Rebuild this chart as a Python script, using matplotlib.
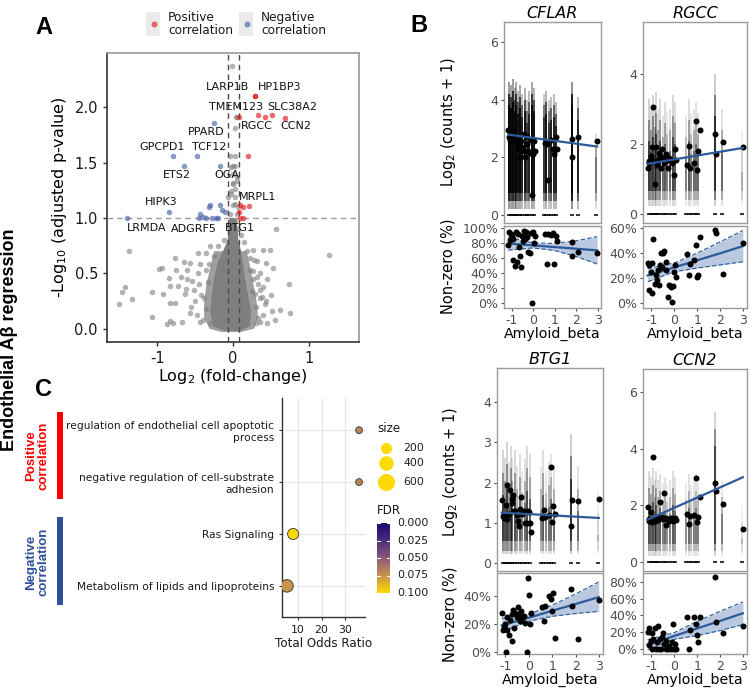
import matplotlib
matplotlib.use('Agg')
import matplotlib.pyplot as plt
import numpy as np
from matplotlib.colors import LinearSegmentedColormap, Normalize
from matplotlib.patches import Polygon, Rectangle

plt.rcParams['axes.unicode_minus'] = False
plt.rcParams['font.family'] = ['DejaVu Sans']

# ---------------- Panel A data (volcano) ----------------
gray_x = [-0.01, 0.04, 0.05, 0.03, -0.04, 0.03, 0.0, 0.03, 0.0, 0.05, 0.0, 0.02, -0.02, 0.02, 0.0, -0.04, 0.05,
          -0.02, 0.03, -0.06, 0.03, -0.02, 0.0, 0.05, -0.02, 0.07, 0.06, -0.05,
          0.57, -1.37, 1.26, 0.74,
          -0.98, -0.93, -0.76, -0.64, -0.84, -0.75, -0.61, -0.46, -0.57, -0.43, -0.35, -0.35, -0.46, -0.68, -0.83,
          -0.72, -0.62, -0.54,
          0.18, 0.26, 0.39, 0.49, 0.31, 0.43, 0.22, 0.31, 0.40, 0.53, 0.25, 0.38, 0.44, 0.14,
          -1.07, -1.42, -1.46, -1.33, -1.50, -1.07, -0.87, -0.83, -0.79, -0.67, -0.83, -0.92, -0.76, -0.63, -0.57,
          -0.43, 0.36, 0.45, 0.42, 0.51, 0.62, 0.75, 0.33, 0.29, 0.36,
          -0.50, -0.48, -0.52, -0.45, 0.35, 0.28, -0.30, 0.15, 0.10, -0.12, -0.20, 0.45, -0.55, 0.50, 0.55, -0.60,
          -0.38, 0.40, -0.30, 0.30, -0.36, -0.33, 0.27, 0.30, -0.40, 0.33, -0.25, 0.22, -0.32, 0.26, -0.42, 0.36]
gray_y = [2.37, 1.91, 1.91, 1.81, 1.56, 1.56, 1.47, 1.47, 1.40, 1.33, 1.32, 1.26, 1.22, 1.13, 1.12, 1.04, 1.04,
          0.98, 0.97, 1.19, 1.19, 1.24, 1.31, 1.37, 1.46, 1.10, 0.90, 0.93,
          0.90, 0.70, 0.67, 0.40,
          0.54, 0.55, 0.64, 0.60, 0.46, 0.53, 0.53, 0.68, 0.59, 0.58, 0.68, 0.53, 0.50, 0.47, 0.39,
          0.39, 0.36, 0.43,
          0.70, 0.71, 0.71, 0.71, 0.61, 0.59, 0.53, 0.47, 0.38, 0.55, 0.34, 0.29, 0.25, 0.26,
          0.33, 0.38, 0.33, 0.27, 0.22, 0.11, 0.04, 0.07, 0.05, 0.06, 0.23, 0.31, 0.23, 0.31, 0.14,
          0.06, 0.06, 0.05, 0.22, 0.16, 0.17, 0.14, 0.40, 0.31, 0.28,
          0.25, 0.12, 0.35, 0.40, 0.50, 0.62, 0.75, 0.78, 0.85, 0.80, 0.75, 0.45, 0.20, 0.30, 0.08, 0.45,
          0.28, 0.12, 0.05, 0.05, 0.18, 0.42, 0.45, 0.20, 0.08, 0.10, 0.66, 0.64, 0.58, 0.52, 0.30, 0.35]
# outline of the dense, fully overlapping core of non-significant genes
core_outer_x = [-0.25, -0.30, -0.35, -0.38, -0.38, -0.31, -0.15, 0.10, 0.28, 0.33, 0.31, 0.27, 0.23, 0.18]
core_outer_y = [0.70, 0.55, 0.40, 0.25, 0.10, 0.00, -0.03, -0.03, 0.00, 0.10, 0.25, 0.40, 0.55, 0.70]
core_inner_x = [-0.12, -0.20, -0.25, -0.28, -0.30, -0.26, -0.10, 0.08, 0.22, 0.24, 0.20, 0.16, 0.13, 0.10,
                0.07, 0.06, 0.04, -0.04, -0.06, -0.07]
core_inner_y = [0.72, 0.60, 0.45, 0.30, 0.15, 0.02, -0.02, -0.02, 0.02, 0.15, 0.30, 0.45, 0.60, 0.72,
                0.80, 0.92, 1.00, 1.00, 0.90, 0.80]
red_x = [0.29, 0.29, 0.08, 0.33, 0.42, 0.51, 0.68, 0.20, 0.09, 0.13, 0.21, 0.08, 0.13, 0.09]
red_y = [2.10, 2.10, 1.91, 1.93, 1.91, 1.93, 1.90, 1.56, 1.12, 1.10, 1.11, 1.05, 1.00, 1.00]
blue_x = [-0.25, -0.79, -0.48, -0.64, -0.17, -0.84, -1.40, -0.44, -0.30, -0.32, -0.17, -0.14, -0.10,
          -0.45, -0.36, -0.28, -0.23, -0.20, -0.40]
blue_y = [1.86, 1.56, 1.56, 1.47, 1.47, 1.05, 1.00, 1.04, 1.12, 1.10, 1.12, 1.07, 1.05,
          1.00, 1.00, 1.00, 1.00, 1.00, 1.01]
gene_labels = ["LARP1B", "HP1BP3", "TMEM123", "SLC38A2", "RGCC", "CCN2", "PPARD", "GPCPD1", "TCF12",
               "ETS2", "OGA", "MRPL1", "HIPK3", "LRMDA", "ADGRF5", "BTG1"]
gene_lx = [-0.07, 0.62, 0.04, 0.78, 0.31, 0.83, -0.35, -0.93, -0.32, -0.74, -0.08, 0.32, -0.95, -1.14, -0.52, 0.09]
gene_ly = [2.18, 2.18, 2.00, 2.00, 1.83, 1.83, 1.78, 1.64, 1.64, 1.39, 1.39, 1.19, 1.14, 0.91, 0.90, 0.91]
fc_cut = [-0.07, 0.08]
p_cut = 1.0

# ---------------- Panel B data ----------------
amyloid = [-1.16, -1.12, -1.08, -1.02, -0.98, -0.95, -0.92, -0.85, -0.80, -0.74, -0.70, -0.66, -0.62, -0.58,
           -0.52, -0.48, -0.43, -0.38, -0.34, -0.28, -0.22, -0.16, -0.10, -0.05, 0.00, 0.04, 0.08, 0.57, 0.63,
           0.68, 0.85, 0.94, 0.98, 1.04, 1.10, 1.79, 1.82, 2.10, 2.98]
cell_x = [-1.12, -1.02, -0.94, -0.86, -0.78, -0.70, -0.60, -0.50, -0.40, -0.30, -0.18, -0.07, 0.03, 0.52,
          0.62, 0.72, 0.85, 0.95, 1.05, 1.79, 2.09, 2.95]
cell_w = [0.9, 0.8, 0.9, 0.7, 0.8, 0.7, 0.8, 0.6, 0.7, 0.5, 0.6, 0.8, 0.7, 0.5, 0.7, 0.5, 0.6, 0.6, 0.6, 1.0, 0.6, 0.3]

cflar_mean = [2.95, 2.70, 2.60, 2.85, 2.70, 2.55, 2.90, 2.75, 2.60, 2.50, 2.40, 2.30, 2.00, 2.55, 2.35, 2.20,
              2.80, 2.00, 2.75, 2.45, 2.20, 2.15, 2.60, 0.70, 2.10, 2.55, 2.20, 2.50, 2.45, 1.20, 2.60, 2.30,
              2.10, 2.70, 2.30, 2.65, 2.00, 2.70, 2.55]
cflar_pct = [78, 95, 84, 92, 90, 85, 58, 50, 95, 55, 92, 75, 63, 48, 90, 83, 96, 86, 95, 88, 68, 67, 93, 0,
             95, 80, 90, 92, 52, 92, 91, 93, 52, 90, 83, 81, 63, 68, 67]
cflar_top = [4.6, 4.5, 4.7, 4.4, 4.6, 4.3, 4.5, 4.2, 4.4, 4.0, 4.3, 4.6, 4.4, 4.2, 4.3, 4.0, 4.1, 4.2, 3.9, 4.6,
             4.1, 2.8]
rgcc_mean = [1.30, 1.50, 1.45, 1.65, 1.90, 1.55, 3.05, 0.85, 1.90, 1.40, 1.55, 1.75, 1.65, 1.30, 1.85, 1.60,
             1.45, 1.70, 1.50, 1.30, 1.60, 1.55, 1.45, 1.50, 1.10, 1.85, 1.55, 1.40, 1.95, 1.30, 1.45, 2.67,
             1.25, 1.80, 2.40, 2.30, 1.72, 2.07, 1.90]
rgcc_pct = [31.7, 10.4, 30.5, 25.0, 31.7, 7.7, 51.5, 15.2, 22.4, 18.4, 26.4, 14.4, 30.4, 39.7, 29.0, 40.3,
            41.9, 33.0, 26.4, 5.0, 14.4, 13.0, 1.0, 13.6, 25.0, 30.4, 21.0, 39.2, 22.4, 31.2, 34.4, 46.4,
            21.0, 22.4, 52.5, 58.4, 55.7, 23.2, 48.2]
rgcc_top = [3.3, 3.0, 3.4, 3.1, 3.5, 3.0, 3.3, 2.8, 3.2, 2.9, 3.0, 3.4, 3.2, 2.8, 3.3, 2.9, 3.0, 3.2, 2.9, 4.0,
            3.0, 2.4]
btg1_mean = [1.57, 1.17, 1.13, 1.17, 1.45, 1.95, 1.10, 1.22, 1.82, 1.50, 1.60, 1.68, 1.30, 1.30, 1.20, 1.05,
             0.92, 1.35, 1.64, 1.22, 1.30, 0.99, 1.00, 1.30, 1.28, 1.00, 0.78, 1.13, 1.32, 1.15, 1.20, 2.39,
             1.01, 1.42, 1.23, 0.93, 1.57, 1.55, 1.58]
btg1_pct = [28, 16, 18, 20, 0, 25, 16, 12, 23, 27, 8, 30, 17, 28, 25, 32, 27, 22, 29, 24, 26, 21, 0, 53, 41,
            20, 28, 32, 22, 33, 40, 38, 29, 42, 10, 45, 33, 9, 37]
btg1_top = [2.8, 2.6, 3.0, 2.5, 2.9, 2.6, 2.8, 2.4, 2.7, 2.3, 2.6, 2.9, 2.7, 2.4, 2.8, 2.3, 2.5, 2.7, 2.4, 3.2,
            2.4, 1.8]
ccn2_mean = [1.95, 1.45, 1.50, 1.78, 1.40, 1.48, 3.72, 1.45, 1.50, 1.55, 1.48, 1.55, 2.10, 1.55, 1.60, 1.50,
             2.42, 1.30, 1.55, 1.50, 1.45, 1.55, 1.50, 1.45, 1.50, 1.55, 1.48, 1.70, 1.35, 1.62, 1.65, 2.95,
             1.40, 1.60, 2.30, 2.78, 2.50, 2.05, 1.15]
ccn2_pct = [20, 5, 25, 10, 19, 0, 12, 25, 0, 8, 27, 0, 12, 0, 14, 19, 6, 0, 10, 0, 4, 0, 8, 30, 0, 6, 0, 38,
            0, 22, 38, 30, 17, 8, 38, 86, 32, 19, 27]
ccn2_top = [3.2, 3.0, 3.3, 2.9, 3.2, 2.9, 3.1, 2.8, 3.0, 2.7, 2.9, 3.2, 3.0, 2.8, 3.1, 2.7, 2.9, 3.1, 2.8, 5.3,
            2.9, 2.0]
# fitted lines (intercept, slope) for log2 expression
fit_intercept = {'CFLAR': 2.67, 'RGCC': 1.56, 'BTG1': 1.215, 'CCN2': 1.91}
fit_slope = {'CFLAR': -0.10, 'RGCC': 0.11, 'BTG1': -0.032, 'CCN2': 0.362}
# non-zero fraction fit and confidence band
band_x = [-1.16, 0, 1, 2, 2.98]
cflar_fit = [79.3, 76.8, 74.6, 72.4, 70.2]
cflar_lo = [70.5, 73.5, 70.0, 62.0, 52.0]
cflar_hi = [88.0, 80.0, 79.5, 83.0, 88.5]
rgcc_fit = [22.0, 28.5, 34.2, 39.8, 45.5]
rgcc_lo = [17.0, 25.0, 28.0, 30.5, 33.0]
rgcc_hi = [27.5, 32.0, 40.0, 49.0, 58.0]
btg1_fit = [19.0, 24.5, 29.5, 34.3, 39.2]
btg1_lo = [14.5, 22.0, 25.5, 27.5, 29.0]
btg1_hi = [24.0, 27.0, 33.5, 41.5, 50.0]
ccn2_fit = [5.0, 15.5, 24.5, 33.5, 42.5]
ccn2_lo = [-1.0, 11.5, 16.0, 22.0, 29.0]
ccn2_hi = [11.0, 19.5, 33.0, 45.0, 56.0]

# ---------------- Panel C data ----------------
pathways = ["regulation of endothelial cell apoptotic\nprocess",
            "negative regulation of cell-substrate\nadhesion",
            "Ras Signaling",
            "Metabolism of lipids and lipoproteins"]
odds_ratio = [35.8, 35.8, 8.0, 5.4]
gene_set_size = [15, 15, 200, 280]
fdr = [0.070, 0.070, 0.098, 0.076]
size_breaks = [200, 400, 600]
fdr_breaks = [0.000, 0.025, 0.050, 0.075, 0.100]

# ================= drawing =================
W, H = 750, 689
fig = plt.figure(figsize=(W / 100, H / 100), dpi=100)


def px_axes(l, t, r, b):
    return fig.add_axes([l / W, 1 - b / H, (r - l) / W, (b - t) / H])


def ftext(x, y, s, **kw):
    return fig.text(x / W, 1 - y / H, s, **kw)


def s_px(d):
    return (d * 0.72) ** 2


def size_to_px(g):
    return np.sqrt(40 + 0.42 * g)


RED = '#e41a1c'
BLUE = '#4a62a8'
GREY = '#7f7f7f'

# ---- Panel A ----
axA = px_axes(107, 53, 359, 342)
axA.add_patch(Polygon(list(zip(core_outer_x, core_outer_y)), closed=True, fc=GREY, ec='none', alpha=0.75, zorder=1))
axA.add_patch(Polygon(list(zip(core_inner_x, core_inner_y)), closed=True, fc=GREY, ec='none', alpha=1.0, zorder=1))
axA.scatter(gray_x, gray_y, s=s_px(5.5), color=GREY, alpha=0.6, lw=0, zorder=2)
for v in fc_cut:
    axA.axvline(v, color='#4a4a4a', lw=1.0, ls=(0, (4, 3)), zorder=3)
axA.axhline(p_cut, color='#9a9a9a', lw=1.0, ls=(0, (4, 3)), zorder=3)
axA.scatter(red_x, red_y, s=s_px(5.5), color=RED, alpha=0.65, lw=0, zorder=4)
axA.scatter(blue_x, blue_y, s=s_px(5.5), color=BLUE, alpha=0.65, lw=0, zorder=4)
for lab, x, y in zip(gene_labels, gene_lx, gene_ly):
    axA.text(x, y, lab, fontsize=8, ha='center', va='center', color='#111111', zorder=5)
axA.set_xlim(-1.66, 1.66)
axA.set_ylim(-0.12, 2.49)
axA.set_xticks([-1, 0, 1])
axA.set_yticks([0.0, 0.5, 1.0, 1.5, 2.0])
axA.set_yticklabels(['0.0', '0.5', '1.0', '1.5', '2.0'])
axA.tick_params(labelsize=10.5, labelcolor='#1a1a1a', length=3, color='#333333', width=1)
for sp in ['left', 'bottom']:
    axA.spines[sp].set_color('#333333')
    axA.spines[sp].set_linewidth(1.2)
for sp in ['top', 'right']:
    axA.spines[sp].set_color('#9a9a9a')
    axA.spines[sp].set_linewidth(1.2)
axA.set_xlabel('Log$_2$ (fold-change)', fontsize=11.5, labelpad=1)
axA.set_ylabel('-Log$_{10}$ (adjusted p-value)', fontsize=11.5, labelpad=4)

# ---- Panel C ----
cmap = LinearSegmentedColormap.from_list('fdr', ['#1b0a6e', '#4b2a7b', '#8b587a', '#c89050', '#fedb00'])
norm = Normalize(0, 0.1)
axC = px_axes(282, 398, 365, 617)
ypos = [4, 3, 2, 1]
axC.set_axisbelow(True)
axC.grid(True, color='#e6e6e6', lw=0.9)
axC.scatter(odds_ratio, ypos, s=[s_px(size_to_px(g)) for g in gene_set_size],
            c=[cmap(norm(f)) for f in fdr], edgecolors='#333333', linewidths=0.6, zorder=3)
axC.set_xlim(3.3, 38.3)
axC.set_ylim(0.4, 4.62)
axC.set_yticks(ypos)
axC.set_yticklabels(pathways, fontsize=7.7, color='#1a1a1a')
axC.set_xticks([10, 20, 30])
axC.tick_params(axis='x', labelsize=7.8, labelcolor='#1a1a1a', length=2.5, color='#333333')
axC.tick_params(axis='y', length=2.5, color='#333333', pad=3)
for sp in ['top', 'right']:
    axC.spines[sp].set_visible(False)
for sp in ['left', 'bottom']:
    axC.spines[sp].set_color('#333333')
    axC.spines[sp].set_linewidth(1.0)
axC.set_xlabel('Total Odds Ratio', fontsize=8.6, labelpad=1, color='#1a1a1a')

# colorbar
axCB = px_axes(377, 523, 390, 593)
grad = np.linspace(0, 1, 256).reshape(-1, 1)
axCB.imshow(grad, aspect='auto', cmap=cmap, extent=[0, 1, 0.1, 0.0])
for fb in fdr_breaks:
    axCB.plot([0, 0.2], [fb, fb], color='white', lw=0.8)
    axCB.plot([0.8, 1], [fb, fb], color='white', lw=0.8)
axCB.set_xlim(0, 1)
axCB.set_ylim(0.1, 0.0)
axCB.axis('off')

# ---- Panel B ----
facets = [
    dict(name='CFLAR', xr=(504, 601), up=(22, 223), lo=(226, 308), mean=cflar_mean, pct=cflar_pct, top=cflar_top,
         uylim=(-0.28, 6.69), uticks=[0, 2, 4, 6], lylim=(-6.7, 102.7), lticks=[0, 20, 40, 60, 80, 100],
         fit=cflar_fit, blo=cflar_lo, bhi=cflar_hi, dense=(0.5, 0.8), alpha=(0.4, 0.75, 1.0),
         ylab_x=448, ylab_up=122, ylab_lo=266),
    dict(name='RGCC', xr=(643, 747), up=(22, 223), lo=(226, 308), mean=rgcc_mean, pct=rgcc_pct, top=rgcc_top,
         uylim=(-0.26, 5.49), uticks=[0, 2, 4], lylim=(-4.0, 61.6), lticks=[0, 20, 40, 60],
         fit=rgcc_fit, blo=rgcc_lo, bhi=rgcc_hi, dense=(0.4, 1.2), alpha=(0.3, 0.6, 0.95)),
    dict(name='BTG1', xr=(497, 603), up=(368, 571), lo=(573, 654), mean=btg1_mean, pct=btg1_pct, top=btg1_top,
         uylim=(-0.2, 4.85), uticks=[0, 1, 2, 3, 4], lylim=(-1.4, 56.4), lticks=[0, 20, 40],
         fit=btg1_fit, blo=btg1_lo, bhi=btg1_hi, dense=(0.3, 1.1), alpha=(0.3, 0.6, 0.95),
         ylab_x=450, ylab_up=472, ylab_lo=614),
    dict(name='CCN2', xr=(643, 747), up=(369, 571), lo=(573, 654), mean=ccn2_mean, pct=ccn2_pct, top=ccn2_top,
         uylim=(-0.32, 6.81), uticks=[0, 2, 4, 6], lylim=(-6.0, 90.5), lticks=[0, 20, 40, 60, 80],
         fit=ccn2_fit, blo=ccn2_lo, bhi=ccn2_hi, dense=(0.4, 1.2), alpha=(0.3, 0.6, 0.95)),
]
LINE_BLUE = '#2c5a98'
XL = (-1.36, 3.16)
for f in facets:
    l, r = f['xr']
    axU = px_axes(l, f['up'][0], r, f['up'][1])
    axL = px_axes(l, f['lo'][0], r, f['lo'][1])
    k = 0.5 + np.mean(f['pct']) / 100.0
    d_lo, margin = f['dense']
    a_f, a_m, a_d = f['alpha']
    for cx, w, top in zip(cell_x, cell_w, f['top']):
        axU.vlines(cx, 0.22, top, color='k', lw=1.2, alpha=min(1, a_f * w * k), zorder=1)
        axU.vlines(cx, d_lo, top - 0.5 * margin, color='k', lw=1.2, alpha=min(1, a_m * w * k), zorder=1)
        axU.vlines(cx, d_lo + 0.25, top - margin, color='k', lw=1.2, alpha=min(1, a_d * w * k), zorder=1)
    axU.plot(cell_x, [0] * len(cell_x), ls='none', marker='_', ms=3.5, mew=1.1, color='k', zorder=2)
    axU.scatter(amyloid, f['mean'], s=s_px(6), color='k', zorder=4, lw=0)
    xs = np.array([min(amyloid), max(amyloid)])
    axU.plot(xs, fit_intercept[f['name']] + fit_slope[f['name']] * xs, color=LINE_BLUE, lw=1.6, zorder=5)
    axU.set_xlim(*XL)
    axU.set_ylim(*f['uylim'])
    axU.set_xticks([])
    axU.set_yticks(f['uticks'])
    axU.set_title(f['name'], fontsize=11.5, fontstyle='italic', pad=3)

    axL.fill_between(band_x, f['blo'], f['bhi'], color='#b3c3dc', alpha=0.9, lw=0, zorder=1)
    axL.plot(band_x, f['blo'], color=LINE_BLUE, lw=0.8, ls=(0, (4, 2)), zorder=2)
    axL.plot(band_x, f['bhi'], color=LINE_BLUE, lw=0.8, ls=(0, (4, 2)), zorder=2)
    axL.plot(band_x, f['fit'], color=LINE_BLUE, lw=1.6, zorder=3)
    axL.scatter(amyloid, f['pct'], s=s_px(6), color='k', zorder=4, lw=0)
    axL.set_xlim(*XL)
    axL.set_ylim(*f['lylim'])
    axL.set_yticks(f['lticks'])
    axL.set_yticklabels([f'{v}%' for v in f['lticks']])
    axL.set_xticks([-1, 0, 1, 2, 3])
    axL.set_xlabel('Amyloid_beta', fontsize=10.2, labelpad=0)
    for ax in (axU, axL):
        ax.tick_params(labelsize=9, labelcolor='#4d4d4d', length=2.5, color='#4d4d4d', pad=1.5)
        for sp in ax.spines.values():
            sp.set_color('#9a9a9a')
            sp.set_linewidth(1.0)
    if 'ylab_x' in f:
        ftext(f['ylab_x'], f['ylab_up'], 'Log$_2$ (counts + 1)', rotation=90, ha='center', va='center',
              fontsize=10.5)
        ftext(f['ylab_x'], f['ylab_lo'], 'Non-zero (%)', rotation=90, ha='center', va='center', fontsize=10.5)

# ---- overlay annotations ----
ov = fig.add_axes([0, 0, 1, 1])
ov.set_xlim(0, W)
ov.set_ylim(H, 0)
ov.patch.set_alpha(0)
ov.axis('off')

# panel A legend
for kx, col, txt in [(146, RED, 'Positive\ncorrelation'), (239, BLUE, 'Negative\ncorrelation')]:
    ov.add_patch(Rectangle((kx, 12), 14, 24, fc='#ebebeb', ec='none'))
    ov.scatter([kx + 7.5], [24], s=s_px(6), color=col, alpha=0.65, lw=0)
    ov.text(kx + 22, 24, txt, fontsize=8.7, ha='left', va='center', linespacing=1.0, color='#1a1a1a')

# panel letters
bold_font = ['Liberation Sans', 'DejaVu Sans']
ov.text(44, 27, 'A', fontsize=17, fontweight='bold', family=bold_font, ha='center', va='center')
ov.text(419, 25, 'B', fontsize=17, fontweight='bold', family=bold_font, ha='center', va='center')
ov.text(44, 390, 'C', fontsize=17, fontweight='bold', family=bold_font, ha='center', va='center')
ov.text(10, 340, 'Endothelial Aβ regression', rotation=90, fontsize=13, fontweight='bold', family=bold_font,
        ha='center', va='center')

# panel C side annotations
narrow = ['Liberation Sans Narrow', 'Liberation Sans', 'DejaVu Sans']
ov.add_patch(Rectangle((57, 412), 6, 87, fc='#ff0000', ec='none'))
ov.add_patch(Rectangle((57, 517), 6, 88, fc='#2e4f9c', ec='none'))
ov.text(37, 456, 'Positive\ncorrelation', rotation=90, color='#ff0000', fontsize=9.5, fontweight='bold',
        family=narrow, ha='center', va='center', linespacing=1.05)
ov.text(37, 562, 'Negative\ncorrelation', rotation=90, color='#2e4f9c', fontsize=9.5, fontweight='bold',
        family=narrow, ha='center', va='center', linespacing=1.05)

# size legend
ov.text(377, 429, 'size', fontsize=8.6, ha='left', va='center', color='#1a1a1a')
for yy, sb in zip([448, 463, 482], size_breaks):
    ov.scatter([386], [yy], s=s_px(size_to_px(sb)), color=cmap(1.0), lw=0)
    ov.text(403, yy, str(sb), fontsize=7.8, ha='left', va='center', color='#1a1a1a')
ov.text(377, 511, 'FDR', fontsize=8.6, ha='left', va='center', color='#1a1a1a')
for fb in fdr_breaks:
    ov.text(397, 523 + fb / 0.1 * 70, f'{fb:.3f}', fontsize=7.8, ha='left', va='center', color='#1a1a1a')

fig.savefig('out.png', dpi=100)
